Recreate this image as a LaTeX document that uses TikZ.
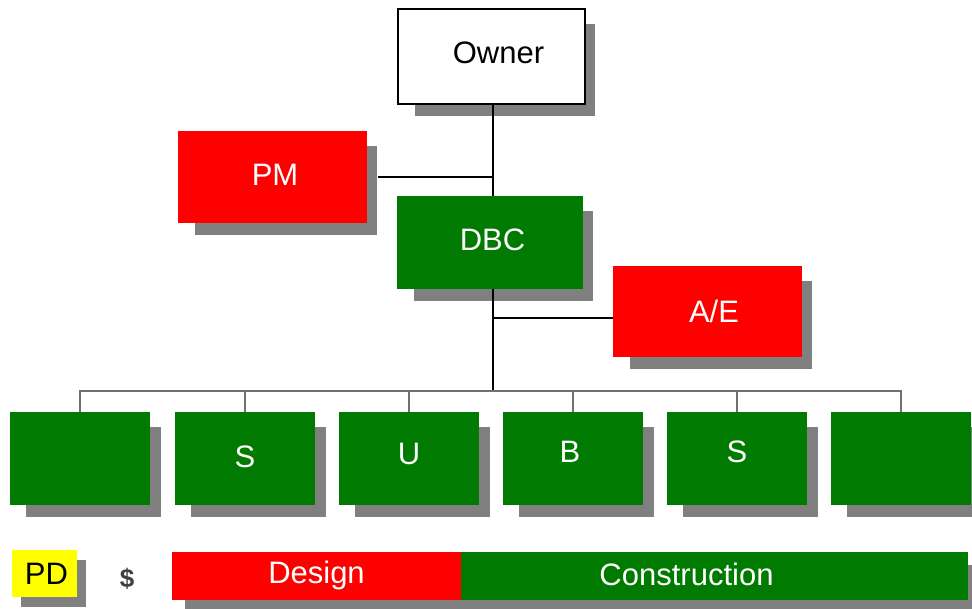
\documentclass[tikz,border=0pt]{standalone}
\usepackage{fontspec}
\setmainfont{Liberation Sans}
\usetikzlibrary{shadows,calc}
\definecolor{pmred}{RGB}{255,0,0}
\definecolor{dbgreen}{RGB}{0,122,0}
\definecolor{shade}{RGB}{128,128,128}
\definecolor{pdyellow}{RGB}{255,255,0}
\definecolor{busgray}{RGB}{112,112,112}
\begin{document}
\begin{tikzpicture}[x=1pt,y=-1pt,
  shadowed/.style={drop shadow={shadow xshift=14pt,shadow yshift=-14pt,
      shadow scale=0.965,fill=shade,opacity=1}},
  orgbox/.style={rectangle,inner sep=0pt,shadowed},
  subbox/.style={rectangle,inner sep=0pt,minimum width=140pt,
      minimum height=93pt,fill=dbgreen,shadowed},
  barbox/.style={rectangle,inner sep=0pt,minimum height=48pt,
      drop shadow={shadow xshift=13pt,shadow yshift=-13pt,shadow scale=1,
      fill=shade,opacity=1}},
  wlbl/.style={text=white,font=\fontsize{31}{36}\selectfont},
  blbl/.style={text=black,font=\fontsize{31}{36}\selectfont},
  trunk/.style={draw=black,line width=1.6pt},
  bus/.style={draw=busgray,line width=1.6pt}]
\useasboundingbox (0,0) rectangle (972,608);

% top of the hierarchy
\node[orgbox,fill=white,draw=black,line width=1.5pt,
      minimum width=187pt,minimum height=95pt,
      label={[blbl,xshift=7pt,yshift=3.5pt]center:Owner}] (owner) at (491.5,56.5) {};
\node[orgbox,fill=pmred,minimum width=189pt,minimum height=92pt,
      label={[wlbl,xshift=2.5pt,yshift=2pt]center:PM}] (pm) at (272.5,177) {};
\node[orgbox,fill=dbgreen,minimum width=186pt,minimum height=93pt,
      label={[wlbl,xshift=2.5pt,yshift=2.5pt]center:DBC}] (dbc) at (490,242.5) {};
\node[orgbox,fill=pmred,minimum width=189pt,minimum height=91pt,
      label={[wlbl,xshift=6.5pt]center:A/E}] (ae) at (707.5,311.5) {};

% subcontractor row
\node[subbox] (s1) at (80,458.5) {};
\node[subbox,label={[wlbl,yshift=2pt]center:S}] (s2) at (245,458.5) {};
\node[subbox,label={[wlbl,yshift=5pt]center:U}] (s3) at (409,458.5) {};
\node[subbox,label={[wlbl,xshift=-3pt,yshift=7pt]center:B}] (s4) at (573,458.5) {};
\node[subbox,label={[wlbl,yshift=7pt]center:S}] (s5) at (737,458.5) {};
\node[subbox] (s6) at (901,458.5) {};

% legend and phase bar
\node[rectangle,inner sep=0pt,fill=pdyellow,minimum width=65pt,minimum height=47pt,
      drop shadow={shadow xshift=9pt,shadow yshift=-10pt,shadow scale=1,
      fill=shade,opacity=1},
      label={[blbl,xshift=2pt]center:PD}] (pd) at (44.5,573.5) {};
\node[font=\fontsize{26}{28}\selectfont\bfseries,text=black!75] (dollar) at (127,579) {\$};
\node[barbox,fill=pmred,minimum width=289pt,
      label={[wlbl,yshift=1pt]center:Design}] (design) at (316.5,576) {};
\node[barbox,fill=dbgreen,minimum width=507pt,
      label={[wlbl,xshift=-28pt,yshift=2pt]center:Construction}] (constr) at (714.5,576) {};

% connectors
\coordinate (tap) at (493,391);
\draw[trunk] (tap |- owner.south) -- (tap |- dbc.north);
\draw[trunk] (tap |- dbc.south) -- (tap);
\draw[trunk] ($(pm.east)+(11,0)$) -- (tap |- pm.east);
\draw[trunk] (tap |- ae.west) ++(0,6.5) -- ($(ae.west)+(0,6.5)$);
\draw[bus] (s1.north) |- (tap) -| (s6.north);
\foreach \k in {2,...,5}
  \draw[bus] (s\k.north) -- (s\k.north |- tap);
\end{tikzpicture}
\end{document}
